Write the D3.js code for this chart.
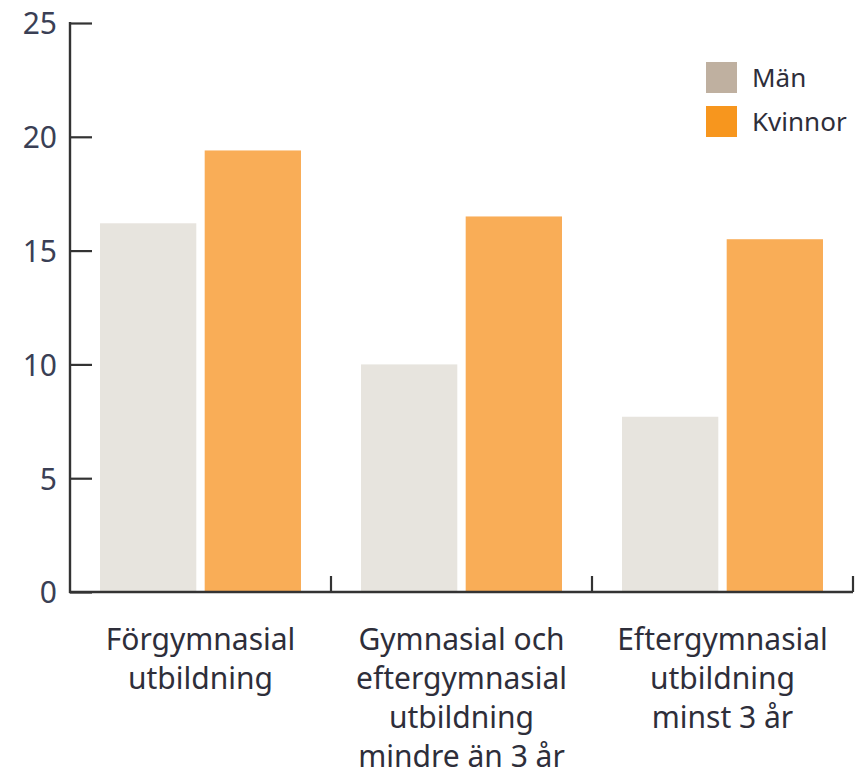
<!DOCTYPE html>
<html>
<head>
<meta charset="utf-8">
<script src="https://cdn.jsdelivr.net/npm/d3@7"></script>
<style>
  body { margin: 0; background: #fff; }
  svg { font-family: "Noto Sans", sans-serif; }
</style>
</head>
<body>
<svg id="chart" width="867" height="778"></svg>
<script>
var categories = [
  ["Förgymnasial", "utbildning"],
  ["Gymnasial och", "eftergymnasial", "utbildning", "mindre än 3 år"],
  ["Eftergymnasial", "utbildning", "minst 3 år"]
];
var seriesNames = ["Män", "Kvinnor"];
var man = [16.2, 10.0, 7.7];
var kvinnor = [19.4, 16.5, 15.5];
var yTicks = [0, 5, 10, 15, 20, 25];
var barColors = ["#e7e4de", "#f9ad57"];
var legendColors = ["#bfb0a0", "#f7961e"];

var svg = d3.select("#chart"),
    margin = {top: 23, right: 14, bottom: 186, left: 70},
    width = 867 - margin.left - margin.right,
    height = 778 - margin.top - margin.bottom,
    g = svg.append("g").attr("transform", "translate(" + margin.left + "," + margin.top + ")");

var data = categories.map(function(c, i) {
  return {key: i, label: c, values: [man[i], kvinnor[i]]};
});

var x0 = d3.scaleBand()
    .domain(data.map(function(d) { return d.key; }))
    .range([0, width])
    .padding(0);

var x1 = d3.scaleBand()
    .domain([0, 1])
    .range([x0.bandwidth() * 0.115, x0.bandwidth() * 0.885])
    .paddingInner(0.08);

var y = d3.scaleLinear()
    .domain([0, 25])
    .range([height, 0]);

// bars
g.append("g")
  .selectAll("g")
  .data(data)
  .enter().append("g")
    .attr("transform", function(d) { return "translate(" + x0(d.key) + ",0)"; })
  .selectAll("rect")
  .data(function(d) { return d.values.map(function(v, i) { return {i: i, value: v}; }); })
  .enter().append("rect")
    .attr("x", function(d) { return x1(d.i); })
    .attr("y", function(d) { return y(d.value); })
    .attr("width", x1.bandwidth())
    .attr("height", function(d) { return height - y(d.value); })
    .attr("fill", function(d) { return barColors[d.i]; });

// y axis, ticks pointing inward
var yAxis = g.append("g")
    .call(d3.axisRight(y).tickValues(yTicks).tickSize(22).tickFormat(d3.format("d")));
yAxis.attr("font-family", "'Noto Sans', sans-serif").attr("font-size", 30);
yAxis.select(".domain").remove();
yAxis.selectAll(".tick line").attr("stroke", "#333").attr("stroke-width", 2.2);
yAxis.selectAll(".tick text")
    .attr("x", -13)
    .attr("text-anchor", "end")
    .attr("dy", "0.36em")
    .attr("fill", "#3a3f55");
g.append("line")
    .attr("x1", 0).attr("x2", 0)
    .attr("y1", y(25) - 1).attr("y2", height + 1)
    .attr("stroke", "#333").attr("stroke-width", 2.4);

// x axis line and category separators
g.append("line")
    .attr("x1", -1).attr("x2", width)
    .attr("y1", height).attr("y2", height)
    .attr("stroke", "#333").attr("stroke-width", 2.4);
g.append("g")
  .selectAll("line")
  .data(data)
  .enter().append("line")
    .attr("x1", function(d) { return x0(d.key) + x0.bandwidth(); })
    .attr("x2", function(d) { return x0(d.key) + x0.bandwidth(); })
    .attr("y1", height)
    .attr("y2", height - 16)
    .attr("stroke", "#333").attr("stroke-width", 2.2);

// category labels
var labels = g.append("g")
  .selectAll("text")
  .data(data)
  .enter().append("text")
    .attr("text-anchor", "middle")
    .attr("font-size", 30)
    .attr("fill", "#2e2e3a")
    .attr("transform", function(d) { return "translate(" + (x0(d.key) + x0.bandwidth() / 2) + "," + (height + 58) + ")"; });
labels.selectAll("tspan")
  .data(function(d) { return d.label; })
  .enter().append("tspan")
    .attr("x", 0)
    .attr("y", function(d, i) { return i * 39; })
    .text(function(d) { return d; });

// legend
var legend = g.append("g")
  .selectAll("g")
  .data(seriesNames)
  .enter().append("g")
    .attr("transform", function(d, i) { return "translate(636," + (39 + i * 44) + ")"; });

legend.append("rect")
    .attr("width", 31)
    .attr("height", 31)
    .attr("fill", function(d, i) { return legendColors[i]; });

legend.append("text")
    .attr("x", 46)
    .attr("y", 16)
    .attr("dy", "0.36em")
    .attr("font-size", 26)
    .attr("fill", "#2e2e3a")
    .text(function(d) { return d; });
</script>
</body>
</html>
